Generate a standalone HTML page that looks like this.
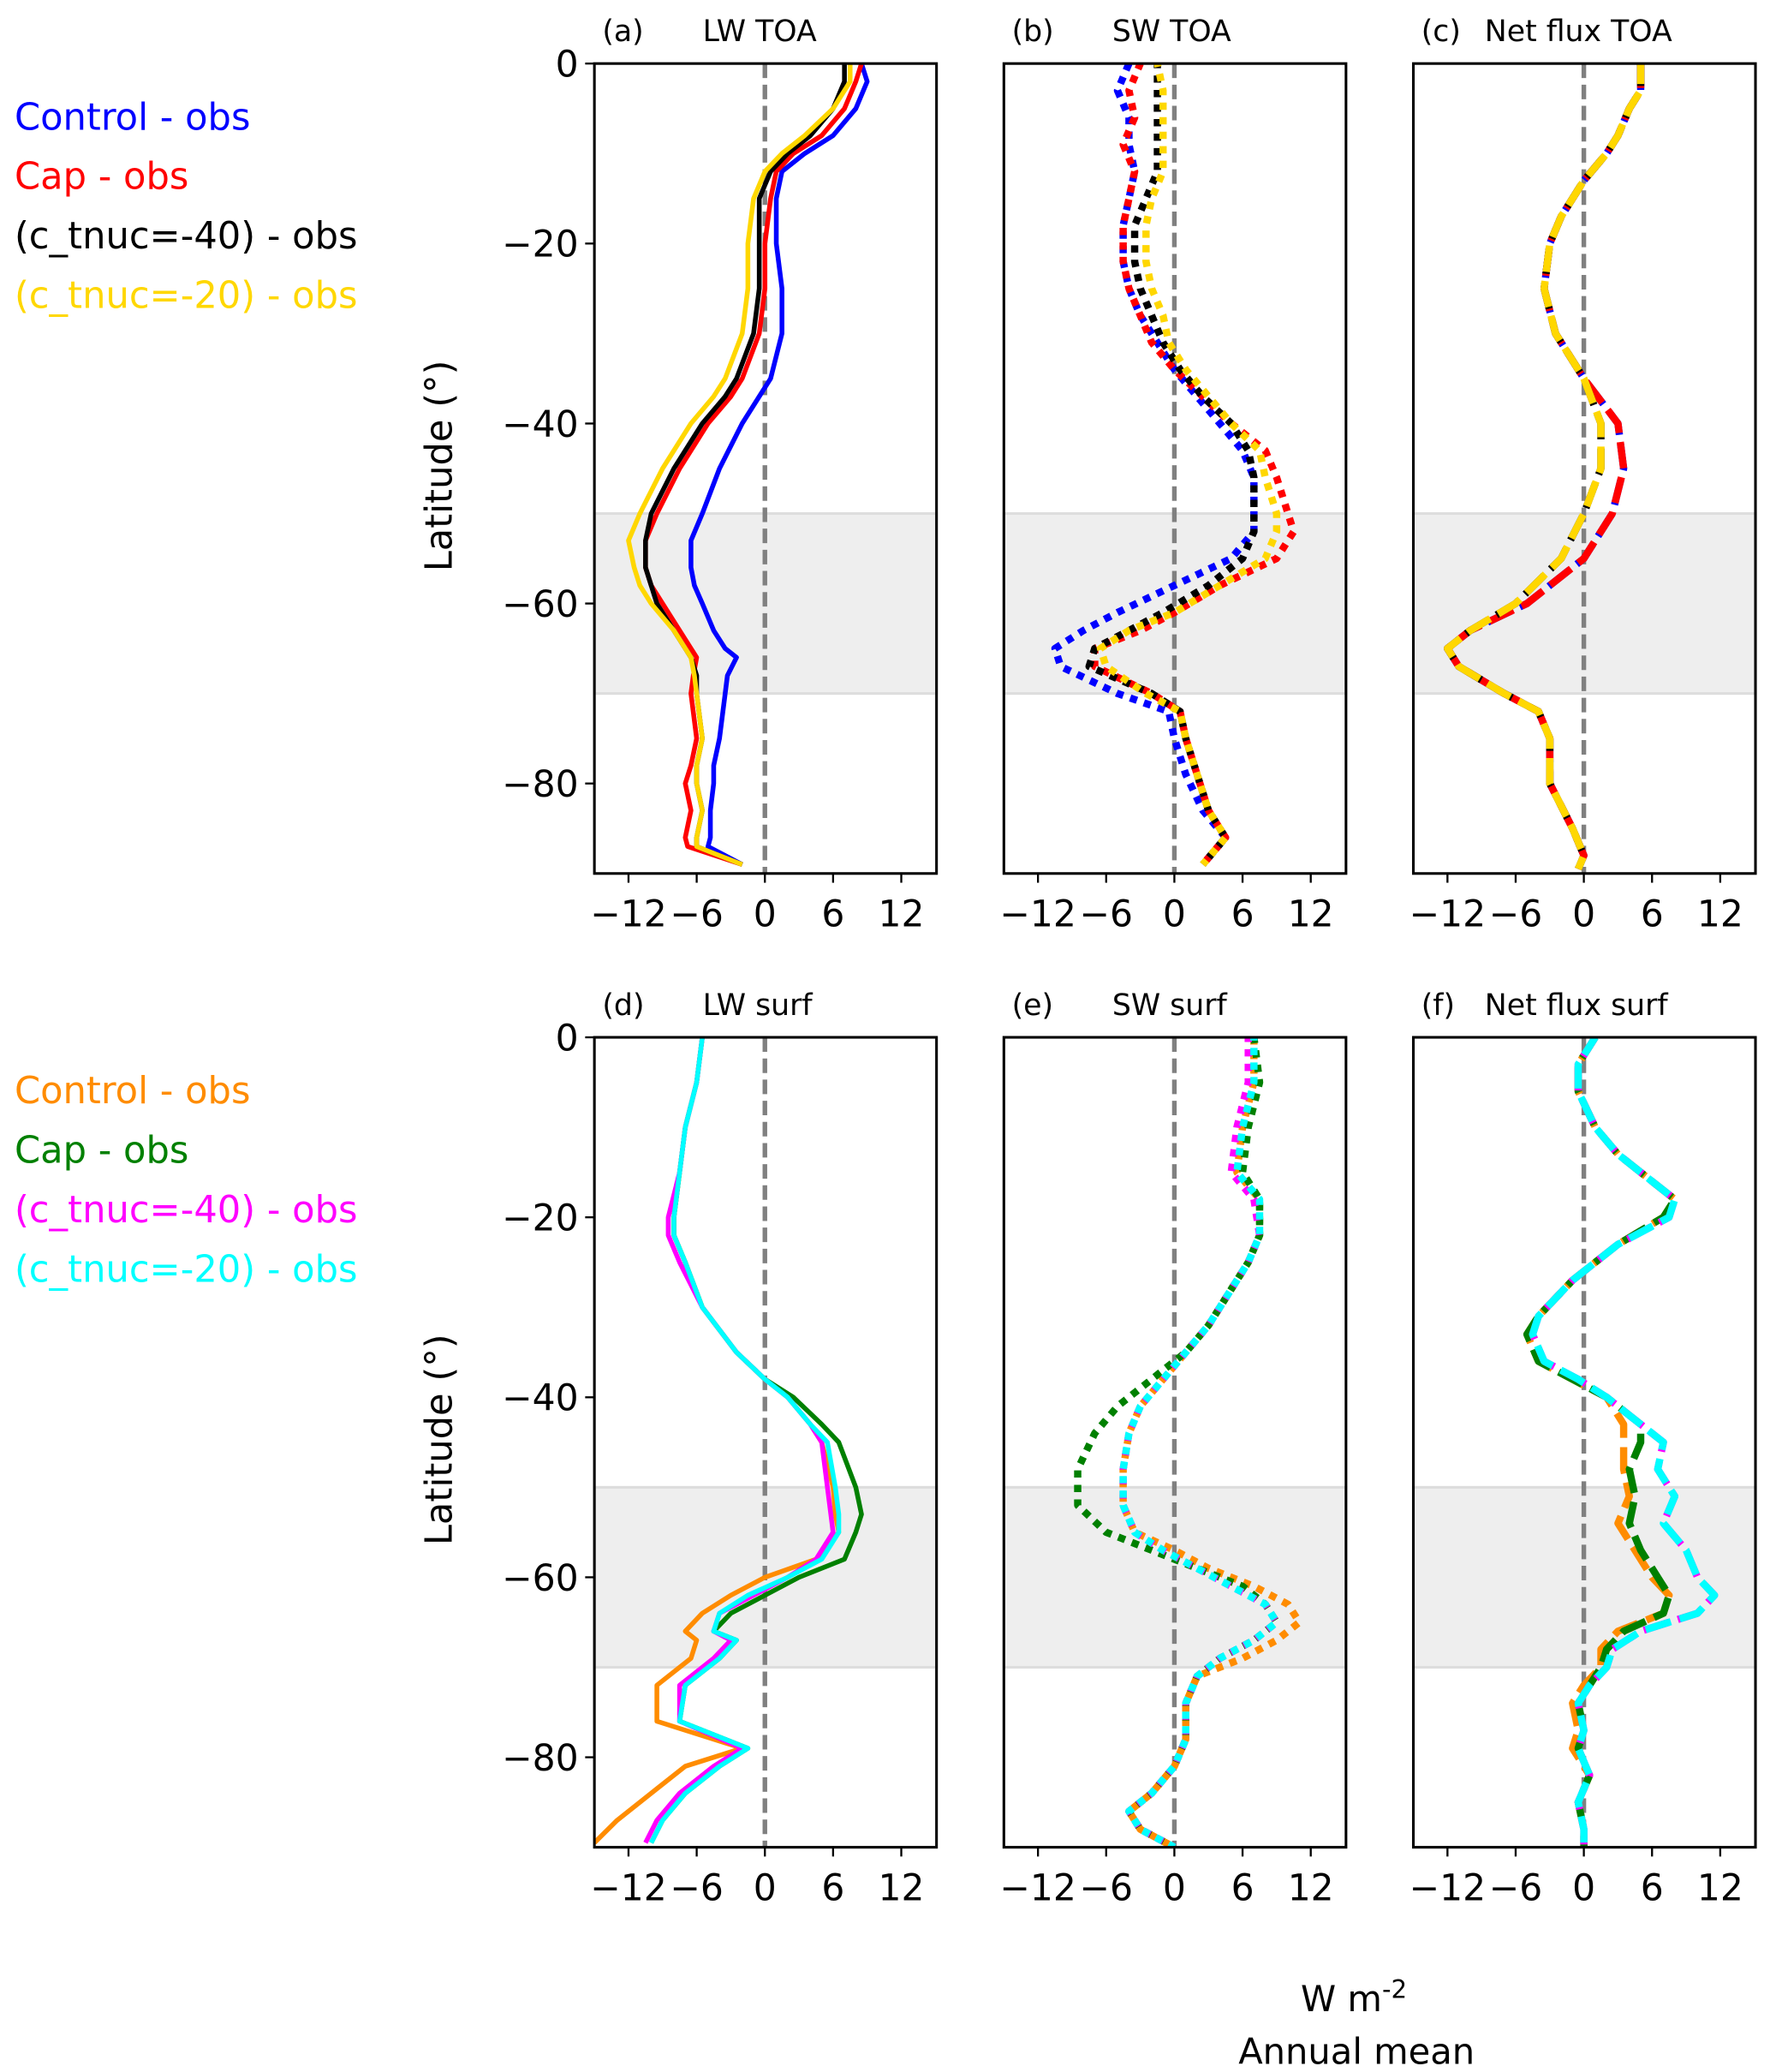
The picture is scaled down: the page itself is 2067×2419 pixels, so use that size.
<!DOCTYPE html>
<html><head><meta charset="utf-8"><style>
html,body{margin:0;padding:0;background:#fff;}
svg{display:block;font-family:"DejaVu Sans","Liberation Sans",sans-serif;}
</style></head><body>
<svg id="fig" width="2067" height="2419" viewBox="0 0 1340 1568" xmlns="http://www.w3.org/2000/svg">
<g font-size="28">
<text x="11" y="98" fill="#0000ff">Control - obs</text>
<text x="11" y="143" fill="#ff0000">Cap - obs</text>
<text x="11" y="188" fill="#000">(c_tnuc=-40) - obs</text>
<text x="11" y="233" fill="#ffd700">(c_tnuc=-20) - obs</text>
</g>
<g font-size="28">
<text x="11" y="835" fill="#ff8c00">Control - obs</text>
<text x="11" y="880" fill="#008000">Cap - obs</text>
<text x="11" y="925" fill="#ff00ff">(c_tnuc=-40) - obs</text>
<text x="11" y="970" fill="#00ffff">(c_tnuc=-20) - obs</text>
</g>
<text x="1025" y="1522" font-size="27" text-anchor="middle">W m<tspan dy="-10" font-size="19">-2</tspan></text>
<text x="1027" y="1562" font-size="27" text-anchor="middle">Annual mean</text>
</svg>
<script>
// ---- data (W m-2 anomalies vs latitude) ----
const xTicks = [-12, -6, 0, 6, 12];
const xTickLabels = ["\u221212", "\u22126", "0", "6", "12"];
const yTicks = [0, -20, -40, -60, -80];
const yTickLabels = ["0", "\u221220", "\u221240", "\u221260", "\u221280"];

const latA = [0,-2,-5,-8,-10,-12,-15,-20,-25,-30,-35,-37,-40,-45,-50,-53,-56,-58,-60,-63,-65,-66,-68,-70,-75,-78,-80,-83,-86,-87,-89];
const aControl = [8.5,9,8,6,3.5,1.5,1,1,1.5,1.5,0.5,-0.5,-2,-4,-5.5,-6.5,-6.5,-6.2,-5.5,-4.5,-3.5,-2.5,-3.3,-3.5,-4,-4.5,-4.5,-4.8,-4.8,-5,-2];
const aCap = [8.5,8,7,5,2.5,1,0.5,0,0,-0.5,-2,-3,-5,-7.5,-9.5,-10.5,-10.5,-10,-9,-7.5,-6.5,-6,-6.3,-6.5,-6,-6.5,-7,-6.5,-7,-6.8,-2];
const aT40 = [7,7,6,4,2,0.5,-0.5,-0.5,-0.5,-1,-2.5,-3.5,-5.5,-8,-10,-10.5,-10.5,-10,-9.5,-8,-7,-6.5,-6,-6,-5.5,-6,-6,-5.5,-6,-6,-2];
const aT20 = [7.5,7.5,6,3.5,1.5,0,-1,-1.5,-1.5,-2,-3.5,-4.5,-6.5,-9,-11,-12,-11.5,-11,-10,-8,-7,-6.5,-6.2,-6,-5.5,-6,-6,-5.5,-6,-6,-2];

const latB = [0,-3,-6,-9,-12,-15,-18,-22,-25,-28,-31,-34,-37,-40,-43,-46,-50,-52,-55,-58,-61,-63,-65,-67,-70,-72,-75,-79,-83,-86,-89];
const bControl = [-4,-5,-4,-4,-3.5,-4,-4.5,-4.5,-4,-3,-1.5,0,2,4,6,7,7,7,5,0,-5,-8,-10.5,-10,-5,-0.5,0,1,2.5,4.5,2.5];
const bCap = [-3,-4,-3.5,-4.5,-3.5,-4,-4.5,-4.5,-4,-3,-2,0,2.5,5,8,9,10,10.5,9,4,0,-3,-7,-7,-2,0.5,1,2,3,4.5,2.5];
const bT40 = [-1.5,-1.5,-1.5,-1.5,-1.5,-2.5,-3.5,-3.5,-3,-2,-1,0.5,2.5,5,6.5,7,7,7,6,3,-1,-4,-7,-7.5,-2,0.5,1,2,3,4.5,2.5];
const bT20 = [-1.5,-1,-1,-1,-1,-2,-2.5,-2.5,-2,-1,-0.5,1,3,5,7.5,8,9,9,8,4,0,-4,-6.5,-6,-2.5,0.5,1,2,3,4.5,2.5];

const latC = [0,-3,-5,-8,-10,-13,-17,-20,-25,-30,-35,-40,-45,-50,-55,-60,-63,-65,-67,-70,-72,-75,-80,-85,-88,-89.5];
const cControl = [5,5,4,3,2,0,-2,-3,-3.5,-2.5,0,3,3.5,2.5,0,-5,-10,-12,-11,-7,-4,-3,-3,-1,0,-0.5];
const cCap = [5,5,4,3,2,0,-2,-3,-3.5,-2.5,0,3,3.5,2.5,0,-5,-10,-12,-11,-7,-4,-3,-3,-1,0,-0.5];
const cT40 = [5,5,4,3,2,0,-2,-3,-3.5,-2.5,0,1.5,1.5,0,-2,-6,-10,-12,-11,-7,-4,-3,-3,-1,0,-0.5];
const cT20 = [5,5,4,3,2,0,-2,-3,-3.5,-2.5,0,1.5,1.5,0,-2,-6,-10,-12,-11,-7,-4,-3,-3,-1,0,-0.5];

const latD = [0,-5,-10,-15,-20,-22,-25,-30,-35,-38,-40,-43,-45,-50,-53,-55,-58,-60,-62,-64,-66,-67,-69,-72,-76,-79,-81,-84,-87,-89.5];
const dControl = [-5.5,-6,-7,-7.5,-8,-8,-7,-5.5,-2.5,0,2,4,5,6,6.2,6.5,4.5,0,-3,-5.5,-7,-6,-6.5,-9.5,-9.5,-2,-7,-10,-13,-15];
const dCap = [-5.5,-6,-7,-7.5,-8,-8,-7,-5.5,-2.5,0,2.5,5,6.5,8,8.5,8,7,3,0,-3,-4.5,-2.5,-4,-7,-7.5,-1.5,-4,-7,-9,-10];
const dT40 = [-5.5,-6,-7,-7.5,-8.5,-8.5,-7.5,-5.5,-2.5,0,2,4,5,5.5,5.8,6,4.5,2,-1,-4,-4.5,-3,-4.5,-7.5,-7.5,-2,-4.5,-7.5,-9.5,-10.5];
const dT20 = [-5.5,-6,-7,-7.5,-8,-8,-7,-5.5,-2.5,0,2,4,5.5,6.2,6.5,6.5,5,2,-1.5,-4,-4.5,-2.5,-4,-7,-7.5,-1.5,-4,-7,-9,-10];

const latE = [0,-5,-10,-15,-18,-22,-25,-28,-32,-35,-38,-41,-44,-48,-52,-55,-57,-59,-61,-63,-65,-67,-69,-71,-74,-78,-81,-84,-86,-88,-90];
const eControl = [7,7,6,5.5,7.5,7.5,6.5,5,3,1,-1,-3,-4,-4.5,-4.5,-3.5,0,3,7,10,11,9,6,2,1,1,0,-2,-4,-3,0];
const eCap = [7,7.5,6.5,6,7.5,7.5,6.5,5,3,1,-2,-5,-7,-8.5,-8.5,-6,-2,2,6,8,9,7,4,2,1,1,0,-2,-4,-3,0];
const eT40 = [6.5,6.5,5.5,5,7,7.5,6.5,5,3,1,-1,-3,-4,-4.5,-4.5,-3.5,-1,2,5,8,9,7,4,2,1,1,0,-2,-4,-3,0];
const eT20 = [7,7,6,5.5,7.5,7.5,6.5,5,3,1,-1,-3,-4,-4.5,-4.5,-3.5,-1,2,5,8,9,7,4,2,1,1,0,-2,-4,-3,0];

const latF = [0,-3,-6,-10,-13,-16,-18,-20,-23,-27,-31,-33,-36,-38,-40,-43,-45,-48,-51,-54,-57,-60,-62,-64,-66,-68,-70,-72,-74,-77,-79,-82,-85,-88,-90];
const fControl = [1,-0.5,-0.5,1,3,6,8,7,3,-1,-4,-5,-4,-1,2,3.5,3.5,3.5,4,3,4.5,6,7.5,7,3,1.5,1.5,0,-1,-0.5,-1,0.5,-0.5,0,0];
const fCap = [1,-0.5,-0.5,1,3,6,8,7,3,-1,-4,-5,-4,-1,2,5,5,4,4.5,4,5,6.5,7.5,7,3.5,2,1.5,0.5,-0.5,0,-0.5,0.5,-0.5,0,0];
const fT40 = [1,-0.5,-0.5,1,3,6,8,7.5,3,-1,-4,-4.5,-3.5,-0.5,2,5,7,6.5,8,7,9,10,11.5,10,5,2.5,2,0.5,-0.5,0,-0.5,0.5,-0.5,0,0];
const fT20 = [1,-0.5,-0.5,1,3,6,8,7.5,3,-1,-4,-4.5,-3.5,-0.5,2,5,7,6.5,8,7,9,10,11.5,10,5,2.5,2,0.5,-0.5,0,-0.5,0.5,-0.5,0,0];

const NS = "http://www.w3.org/2000/svg";
const svg = document.getElementById("fig");
function mk(tag, attrs, parent){ const e=document.createElementNS(NS,tag); for(const k in attrs) e.setAttribute(k,attrs[k]); (parent||svg).appendChild(e); return e; }

const colsTop = ["#0000ff","#ff0000","#000000","#ffd700"];
const colsBot = ["#ff8c00","#008000","#ff00ff","#00ffff"];
const panels = [
 {id:"a",label:"(a)",title:"LW TOA",x0:450,y0:48,lat:latA,series:[aControl,aCap,aT40,aT20],cols:colsTop,style:"solid"},
 {id:"b",label:"(b)",title:"SW TOA",x0:760,y0:48,lat:latB,series:[bControl,bCap,bT40,bT20],cols:colsTop,style:"dot"},
 {id:"c",label:"(c)",title:"Net flux TOA",x0:1070,y0:48,lat:latC,series:[cControl,cCap,cT40,cT20],cols:colsTop,style:"dash"},
 {id:"d",label:"(d)",title:"LW surf",x0:450,y0:785,lat:latD,series:[dControl,dCap,dT40,dT20],cols:colsBot,style:"solid"},
 {id:"e",label:"(e)",title:"SW surf",x0:760,y0:785,lat:latE,series:[eControl,eCap,eT40,eT20],cols:colsBot,style:"dot"},
 {id:"f",label:"(f)",title:"Net flux surf",x0:1070,y0:785,lat:latF,series:[fControl,fCap,fT40,fT20],cols:colsBot,style:"dash"}
];
const W=259, H=613, XMIN=-15, XMAX=15.1, YMIN=-90, YMAX=0;
const names=["control","cap","tnuc40","tnuc20"];

panels.forEach((p,pi)=>{
  const g = mk("g",{});
  
  
  const xs = v => p.x0 + (v-XMIN)/(XMAX-XMIN)*W;
  const ys = v => p.y0 + (YMAX-v)/(YMAX-YMIN)*H;
  const cp = mk("clipPath",{id:"clip"+p.id},g);
  mk("rect",{x:p.x0,y:p.y0,width:W,height:H},cp);
  const sh = mk("rect",{x:p.x0,y:ys(-50),width:W,height:ys(-70)-ys(-50),fill:"#eeeeee",stroke:"#dddddd","stroke-width":2},g);
  
  
  const zl = mk("line",{x1:xs(0),x2:xs(0),y1:p.y0,y2:p.y0+H,stroke:"#808080","stroke-width":3.5,"stroke-dasharray":"11,5"},g);
  
  
  const dg = mk("g",{"clip-path":"url(#clip"+p.id+")"},g);
  p.series.forEach((vals,si)=>{
    const d = vals.map((v,i)=>(i?"L":"M")+xs(v).toFixed(1)+","+ys(p.lat[i]).toFixed(1)).join(" ");
    const at = {d:d,fill:"none",stroke:p.cols[si],"stroke-linejoin":"round"};
    if(p.style==="solid"){at["stroke-width"]=3.6;}
    else if(p.style==="dot"){at["stroke-width"]=5.5;at["stroke-dasharray"]="5.5,5.5";at["stroke-dashoffset"]=si*1;}
    else {at["stroke-width"]=5.5;at["stroke-dasharray"]="20,7";at["stroke-dashoffset"]=si*1.5;}
    const l = mk("path",at,dg);
    
    
  });
  const fr = mk("rect",{x:p.x0,y:p.y0,width:W,height:H,fill:"none",stroke:"#000","stroke-width":2},g);
  
  
  xTicks.forEach((t,i)=>{
    mk("line",{x1:xs(t),x2:xs(t),y1:p.y0+H,y2:p.y0+H+7,stroke:"#000","stroke-width":1.5},g);
    const tl = mk("text",{x:xs(t),y:p.y0+H+40,"font-size":27.5,"text-anchor":"middle"},g);
    tl.textContent = xTickLabels[i];
    
    
  });
  if(p.id==="a"||p.id==="d"){
    yTicks.forEach((t,i)=>{
      mk("line",{x1:p.x0-7,x2:p.x0,y1:ys(t),y2:ys(t),stroke:"#000","stroke-width":1.5},g);
      const tl = mk("text",{x:p.x0-12,y:ys(t)+10,"font-size":27.5,"text-anchor":"end"},g);
      tl.textContent = yTickLabels[i];
      
      
    });
    const yl = mk("text",{x:0,y:0,"font-size":28,"text-anchor":"middle",transform:"translate(342,"+(p.y0+H/2-2)+") rotate(-90)"},g);
    yl.textContent = "Latitude (\u00B0)";
    
    
  }
  const lb = mk("text",{x:p.x0+6,y:p.y0-17,"font-size":22.5},g);
  lb.textContent = p.label;
  
  
  const tt = mk("text",{x:p.x0+(p.title.length>8?54:82),y:p.y0-17,"font-size":22.5},g);
  tt.textContent = p.title;
  
  
});
</script>
</body></html>
